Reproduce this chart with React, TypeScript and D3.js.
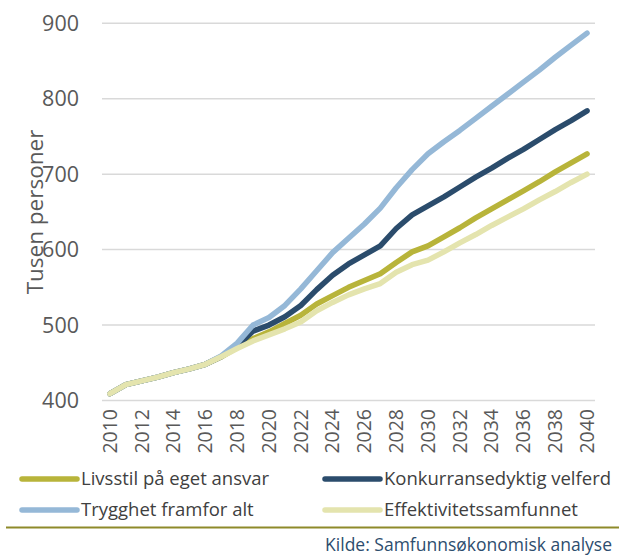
import React from "react";
import * as d3 from "d3";

const years = d3.range(2010, 2041).map(String);
const yTicks = [400, 500, 600, 700, 800, 900];

const livsstil = [409, 421, 426, 431, 437, 442, 448, 458, 470, 482, 491, 502, 513, 528, 539, 550, 559, 568, 583, 597, 605, 617, 629, 642, 654, 666, 678, 690, 703, 715, 727];
const konkurranse = [409, 421, 426, 431, 437, 442, 448, 458, 472, 492, 500, 511, 526, 547, 566, 581, 593, 605, 628, 646, 658, 670, 683, 696, 708, 721, 733, 746, 759, 771, 784];
const trygghet = [409, 421, 426, 431, 437, 442, 448, 459, 476, 500, 510, 526, 548, 572, 596, 615, 634, 655, 682, 706, 727, 743, 758, 774, 790, 806, 822, 838, 855, 871, 887];
const effektivitet = [409, 421, 426, 431, 437, 442, 448, 458, 469, 479, 487, 495, 504, 519, 530, 540, 548, 555, 570, 580, 586, 597, 609, 620, 632, 643, 654, 666, 677, 689, 700];

const seriesNames = ["Livsstil på eget ansvar", "Konkurransedyktig velferd", "Trygghet framfor alt", "Effektivitetssamfunnet"];
const seriesValues = [livsstil, konkurranse, trygghet, effektivitet];
const seriesColors = ["#b8b43a", "#2b4c6c", "#95b8d7", "#e4e4ae"];

const FONT = "'Open Sans', 'Noto Sans', sans-serif";

export default function App() {
  const W = 619, H = 555;
  const x = d3.scaleBand<string>().domain(years).range([102, 595]);
  const y = d3.scaleLinear().domain([400, 900]).range([400.5, 23.3]);
  const cx = (d: string) => (x(d) as number) + x.bandwidth() / 2;
  const line = d3.line<number>().x((_, i) => cx(years[i])).y((v) => y(v));

  const legendPos = [
    { sx: 22, ex: 77, tx: 81, ty: 479 },
    { sx: 325, ex: 380, tx: 384, ty: 479 },
    { sx: 22, ex: 77, tx: 81, ty: 510 },
    { sx: 325, ex: 380, tx: 384, ty: 510 },
  ];

  return (
    <svg width={W} height={H} style={{ position: "absolute", left: 0, top: 0, background: "#fff" }} fontFamily={FONT}>
      {yTicks.map((t) => (
        <g key={t}>
          <line x1={102} x2={595} y1={y(t)} y2={y(t)} stroke="#d9d9d9" strokeWidth={1.5} />
          <text x={79} y={y(t)} dy="0.35em" textAnchor="end" fontSize={21.5} fill="#595959">{t}</text>
        </g>
      ))}
      {years.filter((_, i) => i % 2 === 0).map((yr) => (
        <text key={yr} transform={`translate(${cx(yr)},409) rotate(-90)`} dy="0.35em" textAnchor="end" fontSize={19.5} fill="#595959">{yr}</text>
      ))}
      <text transform="translate(35,212) rotate(-90)" textAnchor="middle" dy="0.35em" fontSize={22.5} fill="#595959">Tusen personer</text>
      {seriesValues.map((vals, i) => (
        <path key={i} d={line(vals) as string} fill="none" stroke={seriesColors[i]} strokeWidth={5.5} strokeLinecap="round" strokeLinejoin="round" />
      ))}
      {seriesNames.map((n, i) => {
        const p = legendPos[i];
        return (
          <g key={n}>
            <line x1={p.sx} x2={p.ex} y1={p.ty} y2={p.ty} stroke={seriesColors[i]} strokeWidth={5.5} strokeLinecap="round" />
            <text x={p.tx} y={p.ty} dy="0.35em" fontSize={18.5} fill="#404040">{n}</text>
          </g>
        );
      })}
      <line x1={6} x2={619} y1={527.5} y2={527.5} stroke="#8e8a2a" strokeWidth={2} />
      <text x={612} y={545} dy="0.35em" textAnchor="end" fontSize={17.5} fill="#2d4d6e">Kilde: Samfunnsøkonomisk analyse</text>
    </svg>
  );
}
